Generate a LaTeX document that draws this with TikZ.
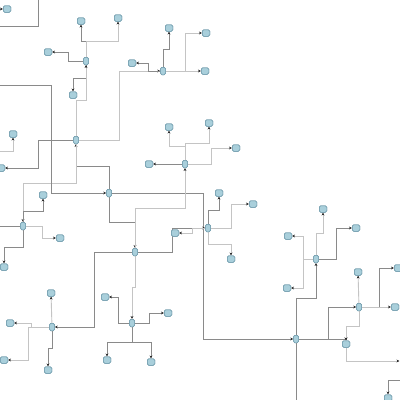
\documentclass[tikz,border=0pt]{standalone}
\usetikzlibrary{arrows.meta}
\definecolor{nfill}{HTML}{A9CFDB}
\definecolor{nbord}{HTML}{6F9AAB}
\definecolor{dk}{HTML}{8A8A8A}
\definecolor{lt}{HTML}{C4C4C4}
\tikzset{
  nd/.style={draw=nbord,fill=nfill,line width=0.5pt,rounded corners=1.5pt,minimum width=7.5pt,minimum height=6.5pt,inner sep=0pt},
  hb/.style={draw=nbord,fill=nfill,line width=0.5pt,rounded corners=1.5pt,minimum width=5pt,minimum height=7.5pt,inner sep=0pt},
  e/.style={draw=dk,line width=0.7pt,-{Stealth[length=3pt,width=2.8pt,color=black!85]}},
  el/.style={draw=lt,line width=0.9pt,-{Stealth[length=3pt,width=2.8pt,color=black!85]}},
  ln/.style={draw=dk,line width=0.7pt},
  lnl/.style={draw=lt,line width=0.9pt}
}
\begin{document}
\begin{tikzpicture}[x=1pt,y=-1pt]
\useasboundingbox[fill=white] (0,0) rectangle (400,400);
% coordinates for off-canvas ends
\coordinate (o1) at (0,9);
\coordinate (o2a) at (38,0);
\coordinate (o2b) at (0,26);
\coordinate (o3) at (0,151);
\coordinate (o4) at (0,85);
\coordinate (o5) at (0,226);
\coordinate (o6) at (399.5,361);
\coordinate (o7) at (400,380);
\coordinate (o8) at (296,400);
% edges drawn first (under nodes)
\node[nd] (n1) at (7,9) {};
\node[hb] (h1) at (86,61) {};
\node[nd] (n2) at (81,21) {};
\node[nd] (n3) at (118,18) {};
\node[nd] (n4) at (48,52) {};
\node[nd] (n5) at (73,95) {};
\node[hb] (h2) at (163,71) {};
\node[nd] (n6) at (169,28) {};
\node[nd] (n7) at (132,63) {};
\node[nd] (n8) at (206,33) {};
\node[nd] (n9) at (205,71) {};
\node[hb] (h3) at (76,140) {};
\node[nd] (n10) at (13,134) {};
\node[nd] (n11) at (1,168) {};
\node[hb] (h4) at (185,164) {};
\node[nd] (n12) at (169,127) {};
\node[nd] (n13) at (209,123) {};
\node[nd] (n14) at (236,148) {};
\node[nd] (n15) at (149,164) {};
\node[hb] (h5) at (109,193) {};
\node[hb] (h6) at (23,226) {};
\node[nd] (n16) at (43,195) {};
\node[nd] (n17) at (60,238) {};
\node[nd] (n18) at (4,267) {};
\node[hb] (h7) at (135,252) {};
\node[nd] (n19) at (175,233) {};
\node[hb] (h8) at (208,228) {};
\node[nd] (n20) at (219,193) {};
\node[nd] (n21) at (253,204) {};
\node[nd] (n22) at (231,259) {};
\node[hb] (h9) at (52,327) {};
\node[nd] (n23) at (51,293) {};
\node[nd] (n24) at (10,323) {};
\node[nd] (n25) at (4,360) {};
\node[nd] (n26) at (48,370) {};
\node[hb] (h10) at (132,323) {};
\node[nd] (n27) at (105,297) {};
\node[nd] (n28) at (168,313) {};
\node[nd] (n29) at (107,360) {};
\node[nd] (n30) at (151,362) {};
\node[hb] (h11) at (296,339) {};
\node[hb] (h12) at (316,259) {};
\node[nd] (n31) at (323,209) {};
\node[nd] (n32) at (356,228) {};
\node[nd] (n33) at (288,236) {};
\node[nd] (n34) at (287,288) {};
\node[hb] (h13) at (359,307) {};
\node[nd] (n35) at (358,272) {};
\node[nd] (n36) at (398,268) {};
\node[nd] (n37) at (395,307) {};
\node[nd] (n38) at (346,344) {};
\node[nd] (n39) at (388,398) {};
\begin{scope}[on background layer/.style={}]
\end{scope}
% ---------- edges ----------
\draw[e] (o1) -- (n1);
\draw[ln] (o2a) |- (o2b);
\draw[e] (h1) -- (86,41) -| (n2);
\draw[el] (h1) -- (86,41) -| (n3);
\draw[e] (h1) -- (68,61) |- (n4);
\draw[e] (h1) -- (86,78) -| (n5);
\draw[el] (h3) -- (76,100) -| (h1);
\draw[el] (h3) -- (119,140) |- (h2);
\draw[e] (h2) -- (163,49) -| (n6);
\draw[e] (h2) -- (148,71) |- (n7);
\draw[el] (h2) -- (185,71) |- (n8);
\draw[el] (h2) -- (n9);
\draw[e] (h3) -- (38,140) |- (n11);
\draw[el] (o3) -| (n10);
\draw[e] (h5) -- (109,166) -| (h3);
\draw[el] (h3) -- (76,183) -| (h6);
\draw[e] (o4) -- (51,85) |- (h5);
\draw[e] (h5) -- (203,193) |- (h11);
\draw[e] (h5) -- (109,222) -| (h7);
\draw[el] (h7) -- (135,208) -| (h4);
\draw[el] (h4) -- (185,146) -| (n12);
\draw[el] (h4) -- (185,143) -| (n13);
\draw[el] (h4) -- (211,164) |- (n14);
\draw[e] (h4) -- (n15);
\draw[e] (h6) -- (23,211) -| (n16);
\draw[el] (h6) -- (42,226) |- (n17);
\draw[e] (h6) -- (23,247) -| (n18);
\draw[ln] (h6) -- (o5);
\draw[e] (h7) -- (172,252) |- (h8);
\draw[el] (h8) -- (192,228) |- (n19);
\draw[e] (h8) -- (208,210) -| (n20);
\draw[el] (h8) -- (231,228) |- (n21);
\draw[el] (h8) -- (208,244) -| (n22);
\draw[e] (h7) -- (94,252) |- (h9);
\draw[el] (h9) -- (n23);
\draw[el] (h9) -- (31,327) |- (n24);
\draw[el] (h9) -- (28,327) |- (n25);
\draw[e] (h9) -- (52,348) -| (n26);
\draw[el] (h7) -- (135,287) -| (h10);
\draw[e] (h10) -- (118,323) |- (n27);
\draw[e] (h10) -- (149,323) |- (n28);
\draw[e] (h10) -- (132,342) -| (n29);
\draw[e] (h10) -- (132,342) -| (n30);
\draw[e] (h11) -- (296,298) -| (h12);
\draw[el] (h12) -- (316,233) -| (n31);
\draw[e] (h12) -- (336,259) |- (n32);
\draw[el] (h12) -- (303,259) |- (n33);
\draw[el] (h12) -- (303,259) |- (n34);
\draw[e] (h11) -- (328,339) |- (h13);
\draw[el] (h13) -- (n35);
\draw[e] (h13) -- (379,307) |- (n36);
\draw[el] (h13) -- (n37);
\draw[el] (h13) -- (359,326) -| (n38);
\draw[e] (h11) -| (n38);
\draw[el] (n38) |- (o6);
\draw[e] (o7) -| (n39);
\draw[ln] (h11) -- (o8);
% redraw nodes on top
\foreach \p/\s in {n1/nd,h1/hb,n2/nd,n3/nd,n4/nd,n5/nd,h2/hb,n6/nd,n7/nd,n8/nd,n9/nd,h3/hb,n10/nd,n11/nd,h4/hb,n12/nd,n13/nd,n14/nd,n15/nd,h5/hb,h6/hb,n16/nd,n17/nd,n18/nd,h7/hb,n19/nd,h8/hb,n20/nd,n21/nd,n22/nd,h9/hb,n23/nd,n24/nd,n25/nd,n26/nd,h10/hb,n27/nd,n28/nd,n29/nd,n30/nd,h11/hb,h12/hb,n31/nd,n32/nd,n33/nd,n34/nd,h13/hb,n35/nd,n36/nd,n37/nd,n38/nd,n39/nd}
  {\node[\s] at (\p) {};}
\end{tikzpicture}
\end{document}
